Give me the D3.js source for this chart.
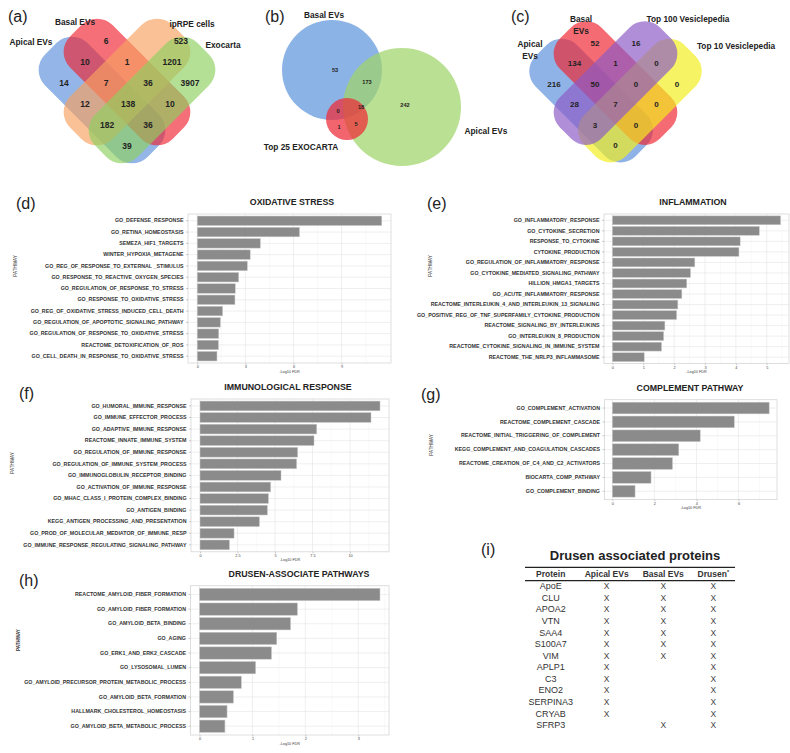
<!DOCTYPE html>
<html>
<head>
<meta charset="utf-8">
<script src="https://cdn.jsdelivr.net/npm/d3@7"></script>
<style>body{margin:0;background:#fff}</style>
</head>
<body>
<div id="viz"></div>
<script>
// ---------- data ----------

// (a) four-set venn
let vennASets = ["Apical  EVs", "Basal EVs", "ipRPE cells", "Exocarta"]
let vennAValues = [6, 523, 10, 1, 1201, 14, 7, 36, 3907, 12, 138, 10, 182, 36, 39]
let vennACells = [[2,0],[5.57,0],[1,1],[3,1],[5.14,1],[0,2],[2,2],[4,2],[6,2],[1,3],[3.05,3],[5.05,3],[2.05,4],[4,4],[3,5]]

// (b) three-set venn
let vennBSets = ["Basal EVs", "Apical EVs", "Top 25 EXOCARTA"]
let vennBValues = [53, 173, 242, 0, 18, 1, 5]

// (c) four-set venn
let vennCSets = ["Apical|EVs", "Basal|EVs", "Top 100 Vesiclepedia", "Top 10 Vesiclepedia"]
let vennCValues = [52, 16, 134, 1, 0, 216, 50, 0, 0, 28, 7, 0, 3, 0, 0]
let vennCCells = [[2,0],[4,0],[1,1],[3,1],[5,1],[0,2],[2,2],[4,2],[6,2],[1,3],[3,3],[5,3],[2,4],[4,4],[3,5]]

// (d) oxidative stress
let oxNames = ["GO_DEFENSE_RESPONSE","GO_RETINA_HOMEOSTASIS","SEMEZA_HIF1_TARGETS","WINTER_HYPOXIA_METAGENE",
  "GO_REG_OF_RESPONSE_TO_EXTERNAL _STIMULUS","GO_RESPONSE_TO_REACTIVE_OXYGEN_SPECIES","GO_REGULATION_OF_RESPONSE_TO_STRESS",
  "GO_RESPONSE_TO_OXIDATIVE_STRESS","GO_REG_OF_OXIDATIVE_STRESS_INDUCED_CELL_DEATH","GO_REGULATION_OF_APOPTOTIC_SIGNALING_PATHWAY",
  "GO_REGULATION_OF_RESPONSE_TO_OXIDATIVE_STRESS","REACTOME_DETOXIFICATION_OF_ROS","GO_CELL_DEATH_IN_RESPONSE_TO_OXIDATIVE_STRESS"]
let oxValues = [11.5, 6.37, 3.93, 3.30, 3.12, 2.58, 2.37, 2.35, 1.58, 1.44, 1.34, 1.32, 1.23]
let oxTicks = [0, 3, 6, 9]

// (e) inflammation
let inflNames = ["GO_INFLAMMATORY_RESPONSE","GO_CYTOKINE_SECRETION","RESPONSE_TO_CYTOKINE","CYTOKINE_PRODUCTION",
  "GO_REGULATION_OF_INFLAMMATORY_RESPONSE","GO_CYTOKINE_MEDIATED_SIGNALING_PATHWAY","HILLION_HMGA1_TARGETS",
  "GO_ACUTE_INFLAMMATORY_RESPONSE","REACTOME_INTERLEUKIN_4_AND_INTERLEUKIN_13_SIGNALING",
  "GO_POSITIVE_REG_OF_TNF_SUPERFAMILY_CYTOKINE_PRODUCTION","REACTOME_SIGNALING_BY_INTERLEUKINS",
  "GO_INTERLEUKIN_8_PRODUCTION","REACTOME_CYTOKINE_SIGNALING_IN_IMMUNE_SYSTEM","REACTOME_THE_NRLP3_INFLAMMASOME"]
let inflValues = [5.45, 4.76, 4.14, 4.10, 2.67, 2.53, 2.41, 2.25, 2.12, 2.08, 1.70, 1.66, 1.59, 1.03]
let inflTicks = [0, 1, 2, 3, 4, 5]

// (f) immunological response
let immNames = ["GO_HUMORAL_IMMUNE_RESPONSE","GO_IMMUNE_EFFECTOR_PROCESS","GO_ADAPTIVE_IMMUNE_RESPONSE",
  "REACTOME_INNATE_IMMUNE_SYSTEM","GO_REGULATION_OF_IMMUNE_RESPONSE","GO_REGULATION_OF_IMMUNE_SYSTEM_PROCESS",
  "GO_IMMUNOGLOBULIN_RECEPTOR_BINDING","GO_ACTIVATION_OF_IMMUNE_RESPONSE","GO_MHAC_CLASS_I_PROTEIN_COMPLEX_BINDING",
  "GO_ANTIGEN_BINDING","KEGG_ANTIGEN_PROCESSING_AND_PRESENTATION","GO_PROD_OF_MOLECULAR_MEDIATOR_OF_IMMUNE_RESP",
  "GO_IMMUNE_RESPONSE_REGULATING_SIGNALING_PATHWAY"]
let immValues = [12.0, 11.4, 7.78, 7.6, 6.51, 6.44, 5.4, 4.71, 4.56, 4.49, 3.96, 2.27, 1.96]
let immTicks = [0, 2.5, 5, 7.5, 10]

// (g) complement pathway
let compNames = ["GO_COMPLEMENT_ACTIVATION","REACTOME_COMPLEMENT_CASCADE","REACTOME_INITIAL_TRIGGERING_OF_COMPLEMENT",
  "KEGG_COMPLEMENT_AND_COAGULATION_CASCADES","REACTOME_CREATION_OF_C4_AND_C2_ACTIVATORS","BIOCARTA_COMP_PATHWAY",
  "GO_COMPLEMENT_BINDING"]
let compValues = [7.46, 5.8, 4.18, 3.16, 2.86, 1.84, 1.08]
let compTicks = [0, 2, 4, 6]

// (h) drusen-associate pathways
let drusNames = ["REACTOME_AMYLOID_FIBER_FORMATION","GO_AMYLOID_FIBER_FORMATION","GO_AMYLOID_BETA_BINDING","GO_AGING",
  "GO_ERK1_AND_ERK2_CASCADE","GO_LYSOSOMAL_LUMEN","GO_AMYLOID_PRECURSOR_PROTEIN_METABOLIC_PROCESS",
  "GO_AMYLOID_BETA_FORMATION","HALLMARK_CHOLESTEROL_HOMEOSTASIS","GO_AMYLOID_BETA_METABOLIC_PROCESS"]
let drusValues = [3.41, 1.85, 1.72, 1.46, 1.36, 1.06, 0.79, 0.64, 0.52, 0.48]
let drusTicks = [0, 1, 2, 3]

// (i) table
let tableCols = ["Protein", "Apical EVs", "Basal EVs", "Drusen"]
let proteins = ["ApoE","CLU","APOA2","VTN","SAA4","S100A7","VIM","APLP1","C3","ENO2","SERPINA3","CRYAB","SFRP3"]
let inApical = [1,1,1,1,1,1,1,1,1,1,1,1,0]
let inBasal  = [1,1,1,1,1,1,1,0,0,0,0,0,1]
let inDrusen = [1,1,1,1,1,1,1,1,1,1,1,1,1]

// ---------- drawing ----------
let width = 790
let height = 753
let FONT = '"Liberation Sans", Arial, Helvetica, sans-serif'

let svg = d3.select('#viz').append('svg').attr('width', width).attr('height', height)
svg.append('rect').attr('width', width).attr('height', height).attr('fill', '#fff')

function txt(g, t, x, y, size, weight, anchor, fill){
    return g.append('text').text(t).attr('x', x).attr('y', y).attr('font-family', FONT)
        .attr('font-size', size).attr('font-weight', weight || 'normal')
        .attr('text-anchor', anchor || 'start').attr('fill', fill || '#222')
}

// panel letters
let letters = [["(a)",8,22],["(b)",265,22],["(c)",511,22],["(d)",16,209],["(e)",427,209],
               ["(f)",19,399],["(g)",421,400],["(h)",19,586],["(i)",481,555]]
letters.forEach(l => txt(svg, l[0], l[1], l[2], 16, 'normal', 'start', '#222'))

// 4-set venn built from rotated rounded rectangles
function venn4(o){
    let g = svg.append('g')
    let k = o.step / 21
    let shapes = [[-25, 6.5, 45], [0, -11.5, 45], [0, -11.5, -45], [25, 6.5, -45]]
    o.order.forEach(i => {
        let s = shapes[i]
        g.append('rect').attr('x', -72.5*k).attr('y', -30*k).attr('width', 145*k).attr('height', 60*k)
            .attr('rx', 22*k).attr('ry', 22*k)
            .attr('transform', `translate(${o.cx + s[0]*k},${o.cy + s[1]*k}) rotate(${s[2]})`)
            .attr('fill', o.colors[i]).attr('fill-opacity', o.opacity)
    })
    let x = d3.scaleLinear().domain([0, 6]).range([o.cx - 3*o.step, o.cx + 3*o.step])
    let y = d3.scaleLinear().domain([0, 5]).range([o.cy - 2.5*o.step, o.cy + 2.5*o.step])
    g.selectAll(null).data(o.values).join('text')
        .text(d => d)
        .attr('x', (d, i) => x(o.cells[i][0])).attr('y', (d, i) => y(o.cells[i][1]))
        .attr('dy', '0.35em').attr('text-anchor', 'middle').attr('font-family', FONT)
        .attr('font-size', o.numSize).attr('font-weight', 'bold').attr('fill', '#222')
    o.sets.forEach((s, i) => {
        let lines = s.split('|')
        lines.forEach((ln, j) => txt(g, ln, o.labelPos[i][0], o.labelPos[i][1] + j*12, 8.3, 'bold', 'middle', '#222'))
    })
}

venn4({cx: 127, cy: 93.5, step: 21, values: vennAValues, cells: vennACells, sets: vennASets,
       colors: ["#5b8fdb", "#ef2532", "#f7a160", "#8dd060"], order: [0, 1, 2, 3], opacity: 0.66, numSize: 8.5,
       labelPos: [[31, 45], [75, 25], [192, 27], [223, 48]]})

venn4({cx: 615.5, cy: 94.25, step: 20.5, values: vennCValues, cells: vennCCells, sets: vennCSets,
       colors: ["#5b8fdb", "#ef2532", "#8c5ac6", "#f2ee1c"], order: [0, 1, 3, 2], opacity: 0.68, numSize: 8,
       labelPos: [[530, 47], [581, 22], [688, 22], [736, 49]]})

// (b) three-set venn with circles
let gB = svg.append('g')
let circlesB = [{cx: 332, cy: 70, r: 50, c: "#6c9ede", o: 0.78},
                {cx: 402, cy: 107, r: 59, c: "#9fd46a", o: 0.72},
                {cx: 347, cy: 119, r: 21, c: "#ee2a36", o: 0.72}]
gB.selectAll(null).data(circlesB).join('circle')
    .attr('cx', d => d.cx).attr('cy', d => d.cy).attr('r', d => d.r)
    .attr('fill', d => d.c).attr('fill-opacity', d => d.o)
let bNumPos = [[335, 70], [367, 82], [405, 105], [338, 111], [361, 107], [339, 127], [356, 124]]
gB.selectAll(null).data(vennBValues).join('text').text(d => d)
    .attr('x', (d, i) => bNumPos[i][0]).attr('y', (d, i) => bNumPos[i][1]).attr('dy', '0.35em')
    .attr('text-anchor', 'middle').attr('font-family', FONT).attr('font-size', 5.6)
    .attr('font-weight', 'bold').attr('fill', '#222')
let bLabelPos = [[324, 18], [486, 134], [301, 150]]
vennBSets.forEach((s, i) => txt(gB, s, bLabelPos[i][0], bLabelPos[i][1], 8.3, 'bold', 'middle', '#222'))

// horizontal bar chart, ggplot-like
function barChart(o){
    let g = svg.append('g')
    let max = d3.max(o.values)
    let x = d3.scaleLinear().domain([-0.05*max, 1.05*max]).range([o.left, o.right])
    let y = d3.scaleBand().domain(o.names).range([o.top, o.bottom]).paddingInner(0.16).paddingOuter(0.18)
    let hi = x.domain()[1]
    let step = o.ticks[1] - o.ticks[0]

    g.append('rect').attr('x', o.left).attr('y', o.top).attr('width', o.right - o.left)
        .attr('height', o.bottom - o.top).attr('fill', '#fff')
    g.selectAll(null).data(d3.range(step/2, hi, step)).join('line')
        .attr('x1', d => x(d)).attr('x2', d => x(d)).attr('y1', o.top).attr('y2', o.bottom)
        .attr('stroke', '#f2f2f2').attr('stroke-width', 0.5)
    g.selectAll(null).data(o.ticks).join('line')
        .attr('x1', d => x(d)).attr('x2', d => x(d)).attr('y1', o.top).attr('y2', o.bottom)
        .attr('stroke', '#e4e4e4').attr('stroke-width', 0.6)
    g.selectAll(null).data(o.names).join('line')
        .attr('x1', o.left).attr('x2', o.right)
        .attr('y1', d => y(d) + y.bandwidth()/2).attr('y2', d => y(d) + y.bandwidth()/2)
        .attr('stroke', '#e4e4e4').attr('stroke-width', 0.6)

    g.selectAll(null).data(o.values).join('rect')
        .attr('x', x(0)).attr('y', (d, i) => y(o.names[i]))
        .attr('width', d => x(d) - x(0)).attr('height', y.bandwidth())
        .attr('fill', '#8b8b8b').attr('stroke', '#c8c8c8').attr('stroke-width', 0.5)

    g.append('rect').attr('x', o.left).attr('y', o.top).attr('width', o.right - o.left)
        .attr('height', o.bottom - o.top).attr('fill', 'none').attr('stroke', '#d6d6d6').attr('stroke-width', 0.8)

    let yAxis = g.append('g').attr('transform', `translate(${o.left},0)`)
        .call(d3.axisLeft(y).tickSize(2).tickPadding(2.5))
    yAxis.select('.domain').remove()
    yAxis.selectAll('line').attr('stroke', '#999').attr('stroke-width', 0.5)
    yAxis.selectAll('text').attr('font-family', FONT).attr('font-size', 5.3)
        .attr('font-weight', 'bold').attr('fill', '#333')

    let xAxis = g.append('g').attr('transform', `translate(0,${o.bottom})`)
        .call(d3.axisBottom(x).tickValues(o.ticks).tickFormat(d => d).tickSize(1.5).tickPadding(1.2))
    xAxis.select('.domain').remove()
    xAxis.selectAll('line').attr('stroke', '#999').attr('stroke-width', 0.5)
    xAxis.selectAll('text').attr('font-family', FONT).attr('font-size', 3.8).attr('fill', '#444')

    txt(g, '-Log10 FDR', (o.left + o.right)/2, o.bottom + 9.5, 3.8, 'normal', 'middle', '#444')
    txt(g, o.title, o.titleX, o.top - 9, 8.8, 'bold', 'middle', '#222')
    txt(g, 'PATHWAY', 0, 0, 4.6, o.pathBold ? 'bold' : 'normal', 'middle', '#333')
        .attr('transform', `translate(${o.pathX},${o.pathY}) rotate(-90)`)
}

barChart({names: oxNames, values: oxValues, ticks: oxTicks, title: "OXIDATIVE STRESS",
          left: 188, right: 391, top: 214, bottom: 363, titleX: 292, pathX: 17, pathY: 266})
barChart({names: inflNames, values: inflValues, ticks: inflTicks, title: "INFLAMMATION",
          left: 604, right: 789, top: 214, bottom: 363.5, titleX: 693, pathX: 432, pathY: 266})
barChart({names: immNames, values: immValues, ticks: immTicks, title: "IMMUNOLOGICAL RESPONSE",
          left: 191, right: 389, top: 399, bottom: 551.8, titleX: 288, pathX: 14, pathY: 463})
barChart({names: compNames, values: compValues, ticks: compTicks, title: "COMPLEMENT PATHWAY",
          left: 604.5, right: 777, top: 399.7, bottom: 499.6, titleX: 690, pathX: 433, pathY: 445})
barChart({names: drusNames, values: drusValues, ticks: drusTicks, title: "DRUSEN-ASSOCIATE PATHWAYS",
          left: 190.5, right: 389, top: 585.7, bottom: 735, titleX: 299, pathX: 20, pathY: 640, pathBold: true})

// (i) table
let gT = svg.append('g')
txt(gT, "Drusen associated proteins", 635, 560, 13, 'bold', 'middle', '#222')
gT.append('line').attr('x1', 525).attr('x2', 735).attr('y1', 567.3).attr('y2', 567.3).attr('stroke', '#222').attr('stroke-width', 1.3)
gT.append('line').attr('x1', 525).attr('x2', 735).attr('y1', 580.7).attr('y2', 580.7).attr('stroke', '#222').attr('stroke-width', 1.3)
let colX = d3.scaleOrdinal().domain(tableCols).range([550.7, 606.7, 663.3, 713.3])
tableCols.forEach(c => {
    let t = txt(gT, c, colX(c), 576.6, 8.5, 'bold', 'middle', '#333')
    if(c == "Drusen") t.append('tspan').text('*').attr('font-size', 5.5).attr('dy', -3)
})
let rowY = d3.scaleLinear().domain([0, proteins.length - 1]).range([586, 725])
let cols = [inApical, inBasal, inDrusen]
proteins.forEach((p, i) => {
    txt(gT, p, colX("Protein"), rowY(i) + 3.2, 9, 'normal', 'middle', '#333')
    cols.forEach((col, j) => {
        if(col[i]) txt(gT, "X", colX(tableCols[j+1]), rowY(i) + 3.2, 8.5, 'normal', 'middle', '#444')
    })
})
</script>
</body>
</html>
